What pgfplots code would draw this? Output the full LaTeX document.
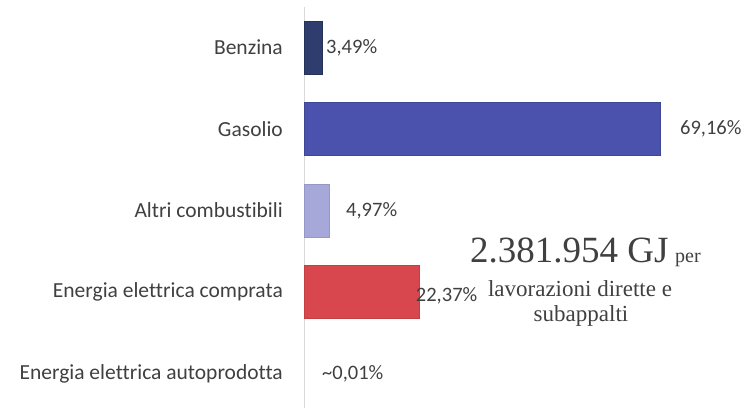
\documentclass[border=0pt]{standalone}
\usepackage{pgfplots}
\pgfplotsset{compat=1.18}
\usepackage{fontspec}
\setmainfont{Carlito}
\newfontfamily\carlito[Ligatures=NoCommon]{Carlito}
\newfontfamily\cambr{Liberation Serif}
\definecolor{txt}{HTML}{404040}
\definecolor{cBenz}{HTML}{2F3D6E}
\definecolor{cGas}{HTML}{4A52AE}
\definecolor{cAltri}{HTML}{A6A8DA}
\definecolor{cRed}{HTML}{D8464E}
\begin{document}
\begin{tikzpicture}[x=1bp,y=1bp]
\useasboundingbox (0,0) rectangle (747,-407);
\begin{axis}[
  at={(304bp,-6.75bp)}, anchor=north west,
  scale only axis, width=412bp, height=407.5bp,
  xmin=0, xmax=80, ymin=-0.5, ymax=4.5,
  y dir=reverse,
  axis x line=none,
  axis y line=left,
  y axis line style={draw=black!15, line width=0.8pt, -},
  ytick={0,1,2,3,4},
  yticklabels={Benzina,Gasolio,Altri combustibili,Energia elettrica comprata,Energia elettrica autoprodotta},
  major tick length=0pt,
  yticklabel style={font=\carlito\fontsize{21.5bp}{24bp}\selectfont, text=txt, inner sep=0pt, xshift=-21bp},
  xbar, bar width=53bp, bar shift=0pt,
  clip=false,
]
\addplot[xbar, fill=cBenz, draw=cBenz!80!black] coordinates {(3.49,0)};
\addplot[xbar, fill=cGas, draw=cGas!85!black] coordinates {(69.16,1)};
\addplot[xbar, fill=cAltri, draw=cAltri!90!black] coordinates {(4.97,2)};
\addplot[xbar, fill=cRed, draw=cRed!90!black] coordinates {(22.37,3)};
\addplot[only marks, mark=*, mark size=0pt, mark options={draw=none,fill=none},
  point meta=explicit symbolic,
  nodes near coords={\pgfplotspointmeta},
  nodes near coords style={anchor=west, inner sep=0pt, text=txt, font=\carlito\fontsize{20.5bp}{22bp}\selectfont}]
  coordinates {
  (4.27,0) [3,49\%]
  (73.0,1) [69,16\%]
  (8.16,2) [4,97\%]
  (21.7,3.05) [22,37\%]
  (3.5,4) [\textasciitilde 0,01\%]
  };
\end{axis}
\node[anchor=base west, inner sep=0pt, text=txt, font=\cambr\fontsize{37bp}{40bp}\selectfont] at (470,-262) {2.381.954 GJ};
\node[anchor=base west, inner sep=0pt, text=txt, font=\cambr\fontsize{20bp}{24bp}\selectfont] at (675,-262) {per};
\node[anchor=base, inner sep=0pt, text=txt, font=\cambr\fontsize{23bp}{26bp}\selectfont] at (580,-296) {lavorazioni dirette e};
\node[anchor=base, inner sep=0pt, text=txt, font=\cambr\fontsize{23bp}{26bp}\selectfont] at (581,-321) {subappalti};
\end{tikzpicture}
\end{document}
